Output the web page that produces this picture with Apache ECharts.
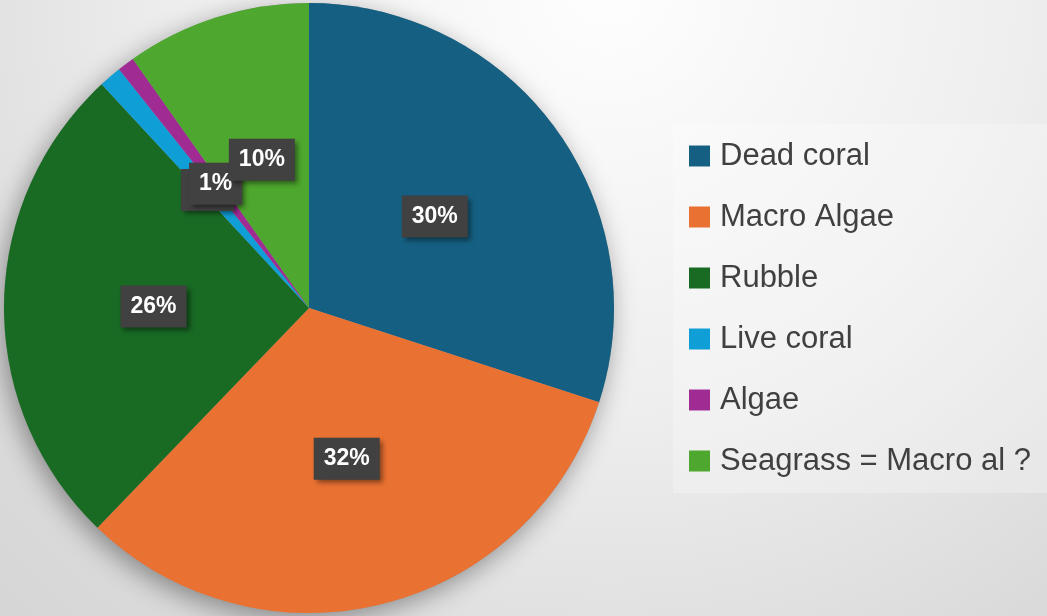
<!DOCTYPE html>
<html>
<head>
<meta charset="utf-8">
<script src="https://cdn.jsdelivr.net/npm/echarts@6/dist/echarts.min.js"></script>
<style>
  html, body { margin: 0; padding: 0; }
  #chart { width: 1047px; height: 616px; }
</style>
</head>
<body>
<div id="chart"></div>
<script>
// Benthic cover categories and their shares (percent)
const categories = ['Dead coral', 'Macro Algae', 'Rubble', 'Live coral', 'Algae', 'Seagrass = Macro al ?'];
const shares = [30.0, 32.2, 25.9, 1.2, 0.9, 9.8];
const colors = ['#156082', '#E97132', '#196B24', '#0F9ED5', '#A02B93', '#4EA72E'];

const center = ['309px', '308px'];
const radius = 305;

const chart = echarts.init(document.getElementById('chart'), null, { renderer: 'canvas' });

chart.setOption({
  backgroundColor: {
    type: 'radial', x: 0.58, y: -0.02, r: 1.45,
    colorStops: [
      { offset: 0, color: '#fefefe' },
      { offset: 0.47, color: '#eeeeee' },
      { offset: 0.84, color: '#dadada' },
      { offset: 1, color: '#d5d5d5' }
    ]
  },
  animation: false,
  legend: {
    orient: 'vertical',
    left: 673,
    top: 124,
    padding: [16, 20, 16, 16],
    backgroundColor: 'rgba(255,255,255,0.25)',
    itemWidth: 21,
    itemHeight: 21,
    itemGap: 29,
    icon: 'rect',
    data: categories,
    textStyle: {
      fontFamily: 'Liberation Sans, Arial, sans-serif',
      fontSize: 31,
      lineHeight: 32,
      color: '#404040',
      padding: [0, 0, 0, 5]
    }
  },
  series: [
    {
      // soft drop shadow under the whole disc
      type: 'pie',
      silent: true,
      center: center,
      radius: radius,
      label: { show: false },
      labelLine: { show: false },
      itemStyle: {
        color: '#9a9a9a',
        shadowBlur: 26,
        shadowColor: 'rgba(0,0,0,0.38)',
        shadowOffsetX: -4,
        shadowOffsetY: 7
      },
      data: [{ value: 1, name: '_disc' }]
    },
    {
      type: 'pie',
      center: center,
      radius: radius,
      startAngle: 90,
      clockwise: true,
      avoidLabelOverlap: false,
      data: categories.map((name, i) => ({
        name: name,
        value: shares[i],
        itemStyle: { color: colors[i] }
      })),
      labelLayout: { hideOverlap: false },
      label: {
        show: true,
        position: 'inside',
        formatter: p => Math.round(p.percent) + '%',
        fontFamily: 'Liberation Sans, Arial, sans-serif',
        fontWeight: 'bold',
        fontSize: 23,
        color: '#ffffff',
        backgroundColor: '#414141',
        padding: [10, 10, 9, 10],
        shadowBlur: 5,
        shadowOffsetX: 3,
        shadowOffsetY: 3,
        shadowColor: 'rgba(0,0,0,0.45)'
      },
      labelLine: { show: false },
      emphasis: { scale: false }
    }
  ]
});
</script>
</body>
</html>
